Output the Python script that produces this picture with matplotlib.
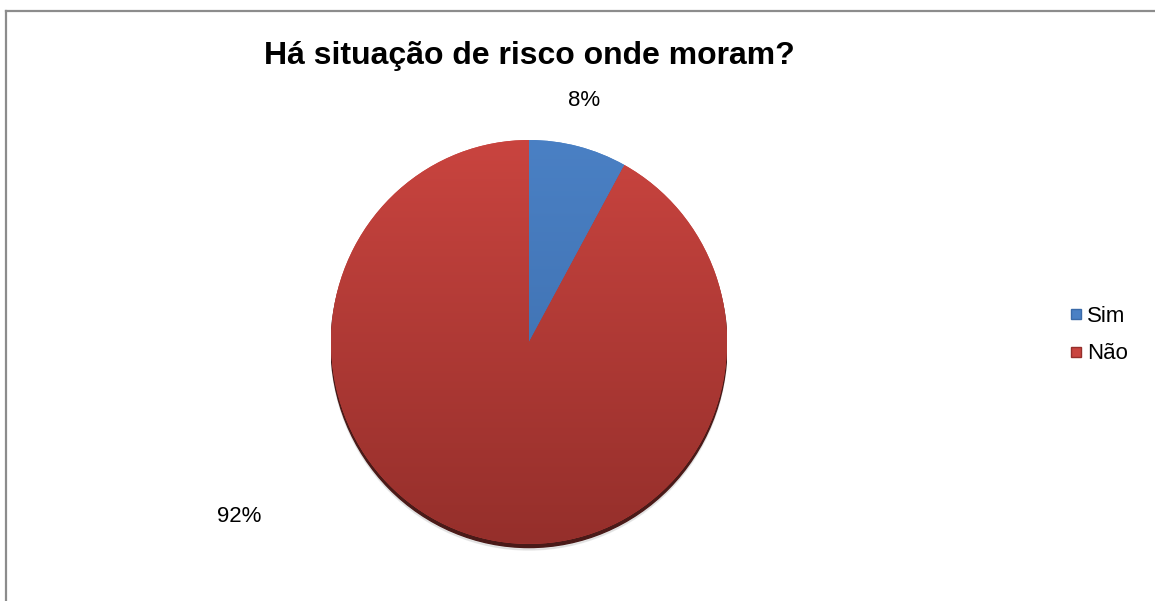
import numpy as np
import matplotlib.pyplot as plt
from matplotlib.colors import LinearSegmentedColormap
from matplotlib.patches import Ellipse
from matplotlib.lines import Line2D

plt.rcParams['font.family'] = ['Liberation Sans', 'DejaVu Sans']

title = 'Há situação de risco onde moram?'
labels = ['Sim', 'Não']
values = [8, 92]
colors_top = ['#4A80C4', '#C9443F']
colors_bottom = ['#3A6AA8', '#952F2B']

fig = plt.figure(figsize=(11.55, 6.01), dpi=100)
W, H = 1155, 601

# frame around the chart area (open to the right and bottom)
fig.add_artist(Line2D([6 / W, 6 / W], [0, 1 - 11 / H], color='#8c8c8c', lw=1.6))
fig.add_artist(Line2D([6 / W, 1], [1 - 11 / H, 1 - 11 / H], color='#8c8c8c', lw=1.6))

fig.text(529 / W, 1 - 56 / H, title, ha='center', va='center',
         fontsize=23, fontweight='bold')

# pie area in pixels: x 331..727, y 140..552
left, right, top, bottom = 331, 727, 140, 552
ax = fig.add_axes([left / W, 1 - bottom / H, (right - left) / W, (bottom - top) / H])

# shadow rim under the pie
ax.add_patch(Ellipse((0, -0.018), 2.0, 2.0, color='#4a1a18', zorder=0))
ax.add_patch(Ellipse((0, -0.03), 2.0, 2.0, color='#d8d8d8', alpha=0.6, zorder=-1))

wedges, _ = ax.pie(values, startangle=90, counterclock=False,
                   colors=colors_top, radius=1.0,
                   wedgeprops=dict(linewidth=0))
ax.set_aspect('auto')

# vertical shading on each slice
grad = np.linspace(1, 0, 256).reshape(-1, 1)
for w, ct, cb in zip(wedges, colors_top, colors_bottom):
    cmap = LinearSegmentedColormap.from_list('g', [cb, ct])
    im = ax.imshow(grad, extent=[-1, 1, -1, 1], cmap=cmap, aspect='auto',
                   origin='upper', zorder=w.get_zorder() + 0.1)
    im.set_clip_path(w)
ax.set_xlim(-1.0, 1.0)
ax.set_ylim(-1.04, 1.0)
ax.axis('off')

# percentage labels
fig.text(584 / W, 1 - 101 / H, f'{values[0]}%', ha='center', va='center', fontsize=16)
fig.text(239 / W, 1 - 516 / H, f'{values[1]}%', ha='center', va='center', fontsize=16)

# legend
handles = [Line2D([0], [0], marker='s', linestyle='none', markersize=7,
                  markerfacecolor=c, markeredgecolor=cb, markeredgewidth=1.0)
           for c, cb in zip(colors_top, colors_bottom)]
fig.legend(handles, labels, loc='center left', bbox_to_anchor=(1058 / W, 1 - 335 / H),
           frameon=False, fontsize=16, handlelength=0.6, handletextpad=0.2,
           labelspacing=0.75, borderpad=0)

fig.savefig('out.png', dpi=100, facecolor='white')
